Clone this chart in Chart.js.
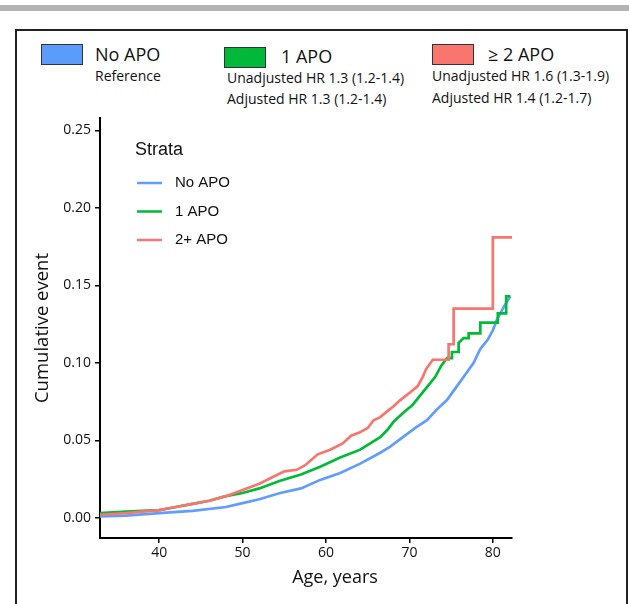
<!DOCTYPE html>
<html>
<head>
<meta charset="utf-8">
<script src="https://cdn.jsdelivr.net/npm/chart.js@4.4.1/dist/chart.umd.min.js"></script>
<style>
  html, body { margin: 0; padding: 0; background: #fff; }
  body { width: 629px; height: 604px; position: relative; overflow: hidden; font-family: "Open Sans", sans-serif; color: #111; }
  #bar { position: absolute; left: 0; top: 5px; width: 629px; height: 6px; background: #b4b4b4; }
  #frame { position: absolute; left: 15px; top: 29px; width: 609px; height: 600px; border: 2px solid #222; }
  .box { position: absolute; width: 40px; height: 19px; border: 1.5px solid #333; }
  .t { position: absolute; line-height: 1; white-space: nowrap; }
  .big { font-size: 18px; }
  .ref { font-size: 14px; }
  .small { font-size: 14px; }
  #wrap { position: absolute; left: 0; top: 0; width: 629px; height: 604px; }
</style>
</head>
<body>
<div id="bar"></div>
<div id="frame"></div>

<div class="box" style="left:41px;top:44px;background:#5b9bfa"></div>
<div class="t big" style="left:95px;top:45px">No APO</div>
<div class="t ref" style="left:95px;top:69px">Reference</div>

<div class="box" style="left:224px;top:47px;background:#00b83a"></div>
<div class="t big" style="left:281px;top:47px">1 APO</div>
<div class="t small" style="left:227px;top:71px">Unadjusted HR 1.3 (1.2-1.4)</div>
<div class="t small" style="left:227px;top:92px">Adjusted HR 1.3 (1.2-1.4)</div>

<div class="box" style="left:432px;top:44px;background:#f8766d"></div>
<div class="t big" style="left:488px;top:45px">&ge; 2 APO</div>
<div class="t small" style="left:432px;top:69px">Unadjusted HR 1.6 (1.3-1.9)</div>
<div class="t small" style="left:432px;top:91px">Adjusted HR 1.4 (1.2-1.7)</div>

<div id="wrap"><canvas id="c" width="629" height="604"></canvas></div>

<script>
// cumulative event curves (age, cumulative incidence)
const noApoAge = [32.9, 36, 40, 44, 48, 50, 52, 54.5, 57, 59.3, 61.7, 64.1, 66.5, 67.7, 70.7, 72.1, 73.3, 74.5, 75.7, 76.9, 77.7, 78.5, 79.4, 80.0, 80.5, 81.3, 82.1];
const noApoVal = [0.001, 0.0015, 0.003, 0.0045, 0.007, 0.0095, 0.012, 0.016, 0.019, 0.0245, 0.029, 0.035, 0.042, 0.046, 0.058, 0.063, 0.070, 0.076, 0.085, 0.094, 0.100, 0.109, 0.115, 0.121, 0.128, 0.136, 0.143];

const oneApoAge = [32.9, 36, 40, 42, 44, 46, 48, 50, 52, 54.5, 57, 59.3, 61.7, 64.1, 66.5, 67.4, 68.1, 69.3, 70.4, 71.3, 72.2, 73.1, 73.8, 74.5, 75.1, 75.1, 75.9, 75.9, 76.5, 77.1, 77.1, 78.5, 78.5, 80.6, 80.6, 81.6, 81.6, 82.1];
const oneApoVal = [0.003, 0.004, 0.005, 0.007, 0.009, 0.011, 0.014, 0.016, 0.019, 0.024, 0.028, 0.033, 0.039, 0.044, 0.052, 0.057, 0.062, 0.068, 0.073, 0.079, 0.085, 0.091, 0.098, 0.103, 0.103, 0.107, 0.107, 0.113, 0.116, 0.116, 0.119, 0.119, 0.126, 0.126, 0.132, 0.132, 0.143, 0.143];

const twoApoAge = [32.9, 36, 40, 42, 44, 46, 48, 50, 52, 53.5, 55, 56.5, 57.5, 59, 60.5, 62, 63, 64, 65, 65.7, 66.5, 67.4, 68.1, 68.9, 70.1, 71.0, 71.6, 72.0, 72.8, 74.7, 74.7, 75.3, 75.3, 80.0, 80.0, 82.3];
const twoApoVal = [0.002, 0.003, 0.005, 0.007, 0.009, 0.011, 0.014, 0.018, 0.022, 0.026, 0.030, 0.031, 0.034, 0.041, 0.044, 0.048, 0.053, 0.055, 0.058, 0.063, 0.065, 0.069, 0.072, 0.076, 0.081, 0.085, 0.091, 0.096, 0.102, 0.102, 0.112, 0.112, 0.135, 0.135, 0.181, 0.181];

const strataLabels = ["No APO", "1 APO", "2+ APO"];
const strataColors = ["#619cff", "#00ba38", "#f8766d"];

const xTicks = [40, 50, 60, 70, 80];
const yTicks = [0, 0.05, 0.10, 0.15, 0.20, 0.25];

function pts(ages, vals) {
  return ages.map((a, i) => ({ x: a, y: vals[i] }));
}

// legend drawn inside the plot, top left, like the ggplot one
// (x axis title also drawn here, it sits right of the panel centre in the original)
const strataLegend = {
  id: "strataLegend",
  afterDraw(chart) {
    const ctx = chart.ctx;
    ctx.save();
    ctx.fillStyle = "#111";
    ctx.textBaseline = "middle";
    ctx.font = "18px 'Liberation Sans', Arial, sans-serif";
    ctx.fillText("Strata", 135, 150);
    ctx.font = "15px 'Liberation Sans', Arial, sans-serif";
    chart.data.datasets.forEach((ds, i) => {
      const y = 183 + i * 28.5;
      ctx.strokeStyle = ds.borderColor;
      ctx.lineWidth = 2.5;
      ctx.beginPath();
      ctx.moveTo(137, y);
      ctx.lineTo(162, y);
      ctx.stroke();
      ctx.fillText(ds.label, 175, y);
    });
    ctx.font = "18px 'Open Sans', sans-serif";
    ctx.textAlign = "center";
    ctx.fillText("Age, years", 335, 578);
    ctx.restore();
  }
};

const axisFont = { family: "'Open Sans', sans-serif", size: 14 };
const titleFont = { family: "'Open Sans', sans-serif", size: 18.5 };

new Chart(document.getElementById("c"), {
  type: "line",
  data: {
    datasets: [
      { label: strataLabels[0], data: pts(noApoAge, noApoVal), borderColor: strataColors[0], order: 3 },
      { label: strataLabels[1], data: pts(oneApoAge, oneApoVal), borderColor: strataColors[1], order: 2 },
      { label: strataLabels[2], data: pts(twoApoAge, twoApoVal), borderColor: strataColors[2], order: 1 }
    ]
  },
  options: {
    responsive: false,
    animation: false,
    devicePixelRatio: 1,
    layout: { padding: { left: 30, top: 118, right: 117, bottom: 10 } },
    elements: {
      line: { borderWidth: 2.7, tension: 0, fill: false },
      point: { radius: 0 }
    },
    plugins: { legend: { display: false }, tooltip: { enabled: false } },
    scales: {
      x: {
        type: "linear",
        min: 32.9,
        max: 82.3,
        afterBuildTicks(s) { s.ticks = xTicks.map(v => ({ value: v })); },
        afterFit(s) { s.height = 56; },
        grid: { drawOnChartArea: false, drawTicks: true, tickLength: 5, color: "#000", lineWidth: 1.5 },
        border: { display: true, color: "#000", width: 2 },
        ticks: { color: "#111", font: axisFont, padding: 2, maxRotation: 0 },
        title: { display: false }
      },
      y: {
        type: "linear",
        min: -0.013,
        max: 0.258,
        afterBuildTicks(s) { s.ticks = yTicks.map(v => ({ value: v })); },
        afterFit(s) { s.width = 70; },
        grid: { drawOnChartArea: false, drawTicks: true, tickLength: 5, color: "#000", lineWidth: 1.5 },
        border: { display: true, color: "#000", width: 2 },
        ticks: { color: "#111", font: axisFont, padding: 4, callback: v => v.toFixed(2) },
        title: { display: true, text: "Cumulative event", color: "#111", font: titleFont, padding: { top: 2, bottom: 4 } }
      }
    }
  },
  plugins: [strataLegend]
});
</script>
</body>
</html>
